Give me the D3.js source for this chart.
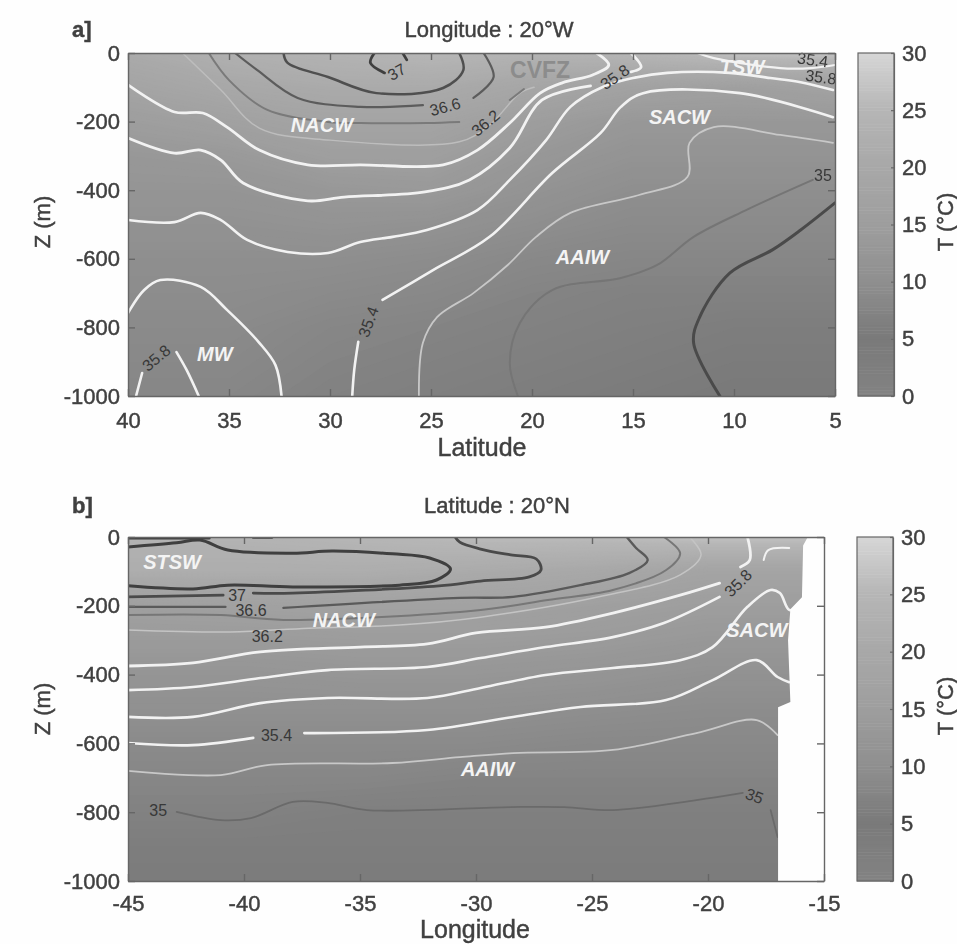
<!DOCTYPE html>
<html>
<head>
<meta charset="utf-8">
<script src="https://cdn.jsdelivr.net/npm/d3@7"></script>
<style>
html,body{margin:0;padding:0;background:#fefefe;}
text{font-family:"Liberation Sans",Arial,sans-serif;}
</style>
</head>
<body>
<svg id="fig" width="957" height="944"></svg>
<script>
// Temperature field (rows: depth, columns: lat or lon)
var depths = [0,-100,-200,-300,-400,-500,-600,-700,-800,-900,-1000];
var latGrid = [40,35,30,25,20,15,10,5];
var lonGrid = [-45,-40,-35,-30,-25,-20,-15];
var tempA = [
	[21,23,24,25,24,25,27,27],
	[18,20,21,21,19,17,16,17],
	[15,16.5,18,18,15,13,13,13],
	[13,13.5,15.5,15.5,13,11.5,11.5,11.5],
	[12,12,13,13.5,11.5,10,10,10],
	[11,11,11.5,11,10,9,9,9],
	[10,10,10,9.5,8.5,8,8,8],
	[9.5,9.5,9,8.5,7.5,7,7,7],
	[9,9,8,7.5,7,6.5,6,6],
	[8.5,8.5,7.5,7,6.5,6,5.5,5.5],
	[8,8,7,6.5,6,5.5,5,5]
];
var tempB = [
	[24,24,25,26,26,27,27],
	[22,22,22,21,20,18,18],
	[16,16.5,17,17,16,15,15],
	[14,14,14.5,14.5,14,13,13],
	[12,12,12.5,12.5,12,11,11],
	[10.5,10.5,10.5,10.5,10,9.5,9.5],
	[9,9,9,9,8.5,8.5,8.5],
	[8,8,8,7.5,7.5,7.5,7.5],
	[7,7,6.5,6.5,6.5,6.5,6.5],
	[6,6,6,6,6,6,6],
	[5.5,5.5,5.5,5.5,5.5,5.5,5.5]
];

// Colorbar, T -> grey level
var cbarT = [0,5,10,15,20,25,30];
var cbarGrey = [130,122,143,158,168,182,215];

// Salinity contours, panel a [lat, z], null = gap for the label
var a370 = [[27.8,0],[28.0,-29],[27.3,-58],null,[26.2,-20],[26.4,0]];
var a368 = [[32.3,0],[32.1,-29],[30.1,-70],[27.7,-117],[24.4,-102],[23.4,-50],[23.6,0]];
var a366 = [[34.7,0],[33.6,-50],[31.6,-131],[28.5,-157],[25.4,-152],null,[22.9,-131],[21.9,-70],[22.4,0]];
var a362 = [[36.0,0],[35.0,-79],[33.1,-166],[30.1,-201],[28.5,-204],[25.2,-204],[23.6,-201],null,[21.1,-137],[20.4,-105]];
var a360 = [[37.3,0],[35.4,-108],[33.5,-219],[30,-254],[23.6,-259],[22.1,-210],[20.6,-117],[19.9,-100]];
var a358a = [[40,-93],[37.7,-172],[36.3,-175],[35.1,-216],[33.5,-283],[31.1,-326],[28.5,-326],[24.4,-326],[22.7,-283],[21.1,-204],[19.6,-117],[18.5,-87],[17.0,-64],[16.2,-35],[16.8,0]];
var a358b = [[40,-248],[37.7,-292],[36.4,-283],[35.4,-312],[34.3,-379],[31.1,-431],[29.3,-420],[25.3,-405],[23.1,-370],[21.1,-277],[19.5,-137],[17.1,-96],null,[15.1,-55],[14.6,-41],[15.1,0]];
var a356 = [[40,-487],[37.7,-493],[36.4,-466],[35.4,-487],[34.1,-545],[32.1,-580],[30.1,-583],[28.5,-551],[26.9,-536],[25.2,-516],[22.7,-458],[21.1,-370],[19.3,-254],[18.1,-157],[16.5,-99],[15.0,-73],[13.3,-58],[10.2,-58],[8.2,-73],[6.7,-85],[5.1,-108]];
var a354 = [[28.9,-1000],[28.8,-924],[28.6,-842],null,[27.4,-720],[24.9,-633],[22.1,-536],[19.0,-350],[16.6,-233],[15.6,-157],[14.5,-117],[9.7,-117],[5.1,-187]];
var aMw1 = [[40,-758],[39.2,-691],[38.4,-662],[36.4,-682],[35.1,-749],[33.5,-845],[32.7,-910],[32.4,-1000]];
var aMw2 = [[39.6,-1000],[39.3,-933],null,[37.6,-872],[37.1,-924],[36.5,-1000]];
var aTsw = [[11.8,0],[11.0,-15],[7.7,-44],[6.2,-44],[5,-35]];
var a352 = [[25.6,-1000],[25.4,-845],[24.7,-770],[22.9,-700],[21.2,-618],[19.8,-536],[18.1,-466],[14.7,-414],[12.3,-361],[12.2,-262],[11.0,-216],[7.7,-239],[5.1,-262]];
var a350 = [[20.7,-1000],[21.1,-904],[20.6,-787],[19.0,-691],[15.6,-656],[13.8,-618],[12.0,-536],[9.4,-458],[6.1,-370]];
var a348 = [[10.7,-1000],[12.0,-845],[11.7,-770],[10.2,-641],[8.1,-574],[6.7,-516],[5,-437]];

// Salinity contours, panel b [lon, z]
var bTop1 = [[-45,-3],[-41.5,-3]];
var bTop2 = [[-39.6,-1],[-38.8,-1]];
var b370 = [[-45,-29],[-42.9,-17],[-41.9,-9],[-40.7,-38],[-37.9,-47],[-36.2,-41],[-33.6,-49],[-32,-61],[-31.1,-93],[-31.7,-125],[-33.3,-140],[-37.9,-145],[-40.7,-140],[-42.2,-151],[-45,-142]];
var b368 = [[-30.9,0],[-30.7,-15],[-29.8,-35],[-28.5,-52],[-27.4,-64],[-27.2,-96],[-27.7,-116],[-29.8,-128],[-31.6,-142],[-37.9,-163],[-39.6,-163],null,[-40.9,-169],[-45,-174]];
var b366 = [[-23.5,0],[-23.1,-32],[-22.6,-67],[-23.4,-105],[-25.5,-140],[-28.4,-174],[-30.7,-177],[-38.3,-206],null,[-40.8,-203],[-45,-203]];
var b364 = [[-21.9,0],[-21.2,-47],[-21.8,-96],[-24.1,-154],[-26.9,-183],[-29.8,-212],[-38.3,-241],[-41,-227],[-45,-227]];
var b362 = [[-45,-270],[-40.6,-276],[-37.2,-265],[-33.3,-256],[-29.8,-233],[-24.7,-174],[-21.2,-110],[-20.3,-52],[-20.8,0]];
var b358 = [[-45,-375],[-42.2,-366],[-39.3,-334],[-35,-320],[-32.1,-311],[-30,-279],[-27,-262],[-24.1,-221],[-21.2,-169],[-19.5,-134],null,[-18.6,-87],[-18.2,-67],[-18.3,0]];
var b357 = [[-45,-445],[-42.2,-436],[-39.3,-410],[-36.4,-387],[-32.1,-378],[-29.8,-352],[-27,-320],[-24.1,-291],[-21.9,-250],[-19.5,-174]];
var b356 = [[-45,-523],[-42.2,-523],[-39.3,-483],[-36.4,-468],[-32.1,-468],[-29.8,-439],[-27,-401],[-24.1,-381],[-21.2,-358],[-19.8,-320],[-18.3,-203],[-17.3,-154],[-16.9,-163],[-16.5,-212],[-16,-206]];
var b354 = [[-45,-599],[-42.2,-605],[-39.6,-584],null,[-37.4,-570],[-32.1,-561],[-28.4,-523],[-25.5,-494],[-21.8,-474],[-19.8,-416],[-17.9,-358],[-17,-407],[-16.5,-422]];
var b352 = [[-45,-680],[-41,-692],[-39,-663],[-33.6,-657],[-30.7,-640],[-28.4,-628],[-24.1,-619],[-20.5,-570],[-17.9,-532],[-17,-576]];
var b350 = [[-45,-794],null,[-42.9,-799],[-41,-823],[-39.7,-817],[-37.9,-770],[-36.4,-773],[-34.7,-794],[-28.5,-785],[-26.2,-785],[-24.1,-794],[-20.5,-765],[-18.5,-744],null,[-17.3,-794],[-17,-872]];
var bPatch = [[-17.6,-67],[-17.4,-38],[-16.5,-32]];

// Land, no data in panel b
var landB = [[-15,0],[-15.7,0],[-15.9,-25],[-15.95,-175],[-16.45,-210],[-16.55,-300],[-16.45,-480],[-16.98,-495],[-16.98,-1000],[-15,-1000]];

// Contour labels [text, x, z, angle]
var labelsA = [["37",26.7,-55,-30],["36.6",24.3,-157,-15],["36.2",22.3,-204,-40],["35.8",15.9,-70,-35],["35.4",6.1,-20,8],["35.8",5.7,-70,8],["35",5.6,-356,0],["35.4",28.1,-784,-70],["35.8",38.6,-889,-40]];
var labelsB = [["37",-40.3,-169,0],["36.6",-39.7,-212,0],["36.2",-39,-288,0],["35.8",-18.7,-134,-45],["35.4",-38.6,-576,0],["35",-43.7,-794,0],["35",-18,-753,20]];
// Water masses [text, x, z]
var massA = [["NACW",30.4,-210],["SACW",12.7,-187],["TSW",9.6,-41],["AAIW",17.5,-595],["MW",35.7,-877]];
var massB = [["STSW",-43.1,-73],["NACW",-35.7,-241],["SACW",-17.9,-270],["AAIW",-29.5,-674]];

var latTicks = [40,35,30,25,20,15,10,5];
var lonTicks = [-45,-40,-35,-30,-25,-20,-15];
var zTicks = [0,-200,-400,-600,-800,-1000];
var cbarTicks = [0,5,10,15,20,25,30];

var svg = d3.select("#fig");
var root = svg.append("g").attr("style","filter:blur(0.6px)");
var inkCol = "#404040";
var axisCol = "#666";
var fontBig = 22;

// T vers gris
var greyOf = d3.scaleLinear().domain(cbarT).range(cbarGrey);
function grey(t){ var g = Math.round(greyOf(t)); return "rgb("+g+","+g+","+g+")"; }

// texte des axes
function styleTxt(sel){
	return sel.attr("font-size",fontBig).attr("font-family","Liberation Sans").attr("fill",inkCol).attr("stroke",inkCol).attr("stroke-width",0.45);
}
function plain(d){ return String(d); }

function drawPanel(p){
	var g = root.append("g");
	var sx = d3.scaleLinear().domain(p.xDomain).range([p.x0,p.x1]);
	var sy = d3.scaleLinear().domain([0,-1000]).range([p.y0,p.y1]);

	g.append("clipPath").attr("id","clip"+p.id).append("rect")
		.attr("x",p.x0).attr("y",p.y0).attr("width",p.x1-p.x0).attr("height",p.y1-p.y0);
	var plot = g.append("g").attr("clip-path","url(#clip"+p.id+")");

	// champ de temperature, en contours remplis
	var nx = p.grid.length, ny = depths.length;
	var gx = d3.scaleLinear().domain([0.5,nx-0.5]).range([sx(p.grid[0]),sx(p.grid[nx-1])]);
	var gy = d3.scaleLinear().domain([0.5,ny-0.5]).range([sy(depths[0]),sy(depths[ny-1])]);
	var proj = d3.geoTransform({point:function(x,y){ this.stream.point(gx(x),gy(y)); }});
	var levels = d3.range(4,30,0.25);
	var cs = d3.contours().size([nx,ny]).thresholds(levels)(d3.merge(p.temp));
	plot.append("rect").attr("x",p.x0).attr("y",p.y0).attr("width",p.x1-p.x0).attr("height",p.y1-p.y0).attr("fill",grey(4));
	plot.selectAll("path.band").data(cs).enter().append("path").attr("class","band")
		.attr("d",d3.geoPath(proj)).attr("fill",function(d){ return grey(d.value); });

	// isohalines
	var line = d3.line().defined(function(d){ return d!==null; })
		.x(function(d){ return sx(d[0]); }).y(function(d){ return sy(d[1]); })
		.curve(d3.curveCatmullRom.alpha(0.5));
	p.lines.forEach(function(l){
		plot.append("path").attr("d",line(l.pts)).attr("fill","none")
			.attr("stroke",l.col).attr("stroke-width",l.w).attr("stroke-linecap","round");
	});

	if(p.land){
		plot.append("path").attr("d",d3.line().x(function(d){ return sx(d[0]); }).y(function(d){ return sy(d[1]); })(p.land)+"Z")
			.attr("fill","#fefefe");
	}

	// labels
	p.labels.forEach(function(l){
		g.append("text").attr("transform","translate("+sx(l[1])+","+sy(l[2])+") rotate("+l[3]+")")
			.attr("text-anchor","middle").attr("dy","0.35em").attr("font-size",16).attr("fill","#383838").text(l[0]);
	});
	p.mass.forEach(function(l){
		g.append("text").attr("x",sx(l[1])).attr("y",sy(l[2])).attr("text-anchor","middle").attr("dy","0.35em")
			.attr("font-size",20).attr("font-weight","bold").attr("font-style","italic").attr("fill","#f4f4f4").text(l[0]);
	});
	if(p.extra){ p.extra(g,sx,sy); }

	// axes
	var ax = g.append("g").attr("transform","translate(0,"+p.y1+")")
		.call(d3.axisBottom(sx).tickValues(p.xTicks).tickSizeInner(-7).tickSizeOuter(0).tickPadding(p.xPad).tickFormat(plain));
	var ay = g.append("g").attr("transform","translate("+p.x0+",0)")
		.call(d3.axisLeft(sy).tickValues(zTicks).tickSizeInner(-7).tickSizeOuter(0).tickPadding(8).tickFormat(plain));
	var at = g.append("g").attr("transform","translate(0,"+p.y0+")")
		.call(d3.axisTop(sx).tickValues(p.xTicks).tickSizeInner(-7).tickSizeOuter(0).tickFormat(""));
	var ar = g.append("g").attr("transform","translate("+p.x1+",0)")
		.call(d3.axisRight(sy).tickValues(zTicks).tickSizeInner(-7).tickSizeOuter(0).tickFormat(""));
	[ax,ay,at,ar].forEach(function(a){
		a.selectAll("path,line").attr("stroke",axisCol).attr("stroke-width",1.4);
		styleTxt(a.selectAll("text"));
	});

	// titres
	styleTxt(g.append("text").attr("x",p.titleX).attr("y",p.titleY).attr("text-anchor","middle").text(p.title));
	styleTxt(g.append("text").attr("x",72).attr("y",p.titleY).text(p.tag)).attr("font-weight","bold");
	styleTxt(g.append("text").attr("x",p.xLabelX).attr("y",p.xLabelY).attr("text-anchor","middle").text(p.xLabel)).attr("font-size",25);
	styleTxt(g.append("text").attr("transform","translate(50,"+p.zLabelY+") rotate(-90)").attr("text-anchor","middle").text("Z (m)"));

	// colorbar
	var sc = d3.scaleLinear().domain([0,30]).range([p.y1,p.y0]);
	var steps = d3.range(0,30,0.25);
	g.selectAll("rect.cb").data(steps).enter().append("rect").attr("class","cb")
		.attr("x",p.cb0).attr("width",p.cb1-p.cb0)
		.attr("y",function(d){ return sc(d+0.25); })
		.attr("height",function(){ return sc(0)-sc(0.25)+0.5; })
		.attr("fill",function(d){ return grey(d); });
	var ac = g.append("g").attr("transform","translate("+p.cb1+",0)")
		.call(d3.axisRight(sc).tickValues(cbarTicks).tickSizeInner(-3).tickSizeOuter(0).tickPadding(8));
	ac.selectAll("path,line").attr("stroke",axisCol).attr("stroke-width",1.2);
	styleTxt(ac.selectAll("text"));
	g.append("rect").attr("x",p.cb0).attr("y",p.y0).attr("width",p.cb1-p.cb0).attr("height",p.y1-p.y0).attr("fill","none").attr("stroke",axisCol).attr("stroke-width",1.2);
	styleTxt(g.append("text").attr("transform","translate(953,"+p.tLabelY+") rotate(-90)").attr("text-anchor","middle").text("T (°C)"));
}

var white = "#f2f2f2", pale = "#c8c8c8";
drawPanel({
	id:"a", tag:"a]", title:"Longitude : 20°W", titleX:489, titleY:37, xLabel:"Latitude", xLabelX:482, xLabelY:456, xPad:16, zLabelY:222, tLabelY:222,
	x0:128, x1:835, y0:53, y1:396, cb0:858, cb1:894,
	xDomain:[40,5], xTicks:latTicks, grid:latGrid, temp:tempA,
	lines:[
		{pts:a360,col:"#bdbdbd",w:1.5},
		{pts:a362,col:"#7a7a7a",w:2},
		{pts:a366,col:"#5c5c5c",w:2.2},
		{pts:a368,col:"#4f4f4f",w:2.5},
		{pts:a370,col:"#3f3f3f",w:2.8},
		{pts:a358a,col:white,w:2.8},
		{pts:a358b,col:white,w:2.8},
		{pts:a356,col:white,w:2.6},
		{pts:a354,col:white,w:2.6},
		{pts:aMw1,col:white,w:2.6},
		{pts:aMw2,col:white,w:2.6},
		{pts:aTsw,col:white,w:2.2},
		{pts:a352,col:pale,w:1.8},
		{pts:a350,col:"#757575",w:2},
		{pts:a348,col:"#4a4a4a",w:3}
	],
	labels:labelsA, mass:massA,
	extra:function(g,sx,sy){
		g.append("text").attr("x",sx(19.6)).attr("y",sy(-50)).attr("text-anchor","middle").attr("dy","0.35em")
			.attr("font-size",23).attr("font-weight","bold").attr("fill","#8c8c8c").text("CVFZ");
	}
});
drawPanel({
	id:"b", tag:"b]", title:"Latitude : 20°N", titleX:497, titleY:513, xLabel:"Longitude", xLabelX:475, xLabelY:938, xPad:14, zLabelY:709, tLabelY:706,
	x0:128, x1:824, y0:537, y1:881, cb0:857, cb1:893,
	xDomain:[-45,-15], xTicks:lonTicks, grid:lonGrid, temp:tempB, land:landB,
	lines:[
		{pts:bTop1,col:"#3f3f3f",w:3},
		{pts:bTop2,col:"#3f3f3f",w:3},
		{pts:b362,col:"#c4c4c4",w:1.5},
		{pts:b364,col:"#777777",w:2},
		{pts:b366,col:"#5a5a5a",w:2.4},
		{pts:b368,col:"#4a4a4a",w:2.8},
		{pts:b370,col:"#3f3f3f",w:3},
		{pts:b358,col:white,w:2.8},
		{pts:b357,col:white,w:2.6},
		{pts:b356,col:white,w:2.6},
		{pts:b354,col:white,w:2.6},
		{pts:bPatch,col:white,w:2},
		{pts:b352,col:pale,w:1.8},
		{pts:b350,col:"#6a6a6a",w:1.8}
	],
	labels:labelsB, mass:massB
});
</script>
</body>
</html>
